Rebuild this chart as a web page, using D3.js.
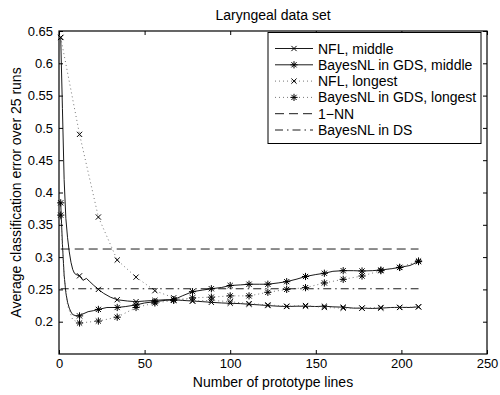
<!DOCTYPE html>
<html>
<head>
<meta charset="utf-8">
<script src="https://cdn.jsdelivr.net/npm/d3@7"></script>
<style>
  body { margin: 0; background: #fff; }
  svg { display: block; font-family: "Liberation Sans", Arial, sans-serif; }
</style>
</head>
<body>
<div id="container"></div>
<script>
// values
const title = 'Laryngeal data set';
const xLabel = 'Number of prototype lines';
const yLabel = 'Average classification error over 25 runs';

const xTicks = [0, 50, 100, 150, 200, 250];
const yTicks = [0.2, 0.25, 0.3, 0.35, 0.4, 0.45, 0.5, 0.55, 0.6, 0.65];

// x positions where markers are drawn
const markerX = [1, 12, 23, 34, 45, 56, 67, 78, 89, 100, 111, 122, 133, 144, 155, 166, 177, 188, 199, 210];

const nflMiddleX = [1, 2, 3, 4, 5, 6, 7, 8, 9, 10, 12, 14, 16, 18, 20, 23, 26, 30, 34, 40, 45, 50, 56, 62, 67, 72, 78, 84, 89, 95,
  100, 106, 111, 117, 122, 128, 133, 139, 144, 150, 155, 160, 166, 172, 177, 183, 188, 194, 199, 205, 210];
const nflMiddleY = [0.640, 0.530, 0.420, 0.360, 0.330, 0.308, 0.292, 0.281, 0.275, 0.273, 0.271, 0.264, 0.267, 0.262, 0.257,
  0.250, 0.244, 0.238, 0.234, 0.232, 0.231, 0.232, 0.233, 0.234, 0.234, 0.233, 0.232, 0.231, 0.230, 0.229,
  0.2285, 0.228, 0.227, 0.226, 0.225, 0.224, 0.2235, 0.224, 0.224, 0.2235, 0.224, 0.223, 0.2225, 0.221, 0.221,
  0.2205, 0.221, 0.222, 0.2222, 0.222, 0.223];

const bayesMiddleX = [1, 2, 3, 4, 5, 6, 7, 8, 10, 12, 14, 17, 20, 23, 28, 34, 39, 45, 50, 56, 62, 67, 72, 78, 84, 89, 95,
  100, 106, 111, 117, 122, 128, 133, 139, 144, 150, 155, 160, 166, 172, 177, 183, 188, 194, 199, 205, 210];
const bayesMiddleY = [0.384, 0.320, 0.272, 0.245, 0.230, 0.221, 0.215, 0.211, 0.209, 0.209, 0.212, 0.2155, 0.217, 0.219,
  0.222, 0.222, 0.2235, 0.226, 0.229, 0.231, 0.233, 0.234, 0.240, 0.2465, 0.249, 0.251, 0.253,
  0.256, 0.257, 0.258, 0.258, 0.258, 0.260, 0.262, 0.266, 0.270, 0.273, 0.275, 0.278, 0.279, 0.279, 0.2785,
  0.279, 0.280, 0.282, 0.284, 0.287, 0.293];

const nflLongestX = markerX;
const nflLongestY = [0.640, 0.490, 0.362, 0.2955, 0.269, 0.248, 0.237, 0.232, 0.233, 0.231, 0.228, 0.226, 0.224, 0.225,
  0.222, 0.221, 0.221, 0.222, 0.222, 0.223];

const bayesLongestX = [1, 3, 5, 8, 12, 23, 34, 45, 56, 67, 78, 89, 100, 111, 122, 133, 144, 155, 166, 177, 188, 199, 210];
const bayesLongestY = [0.365, 0.270, 0.225, 0.203, 0.198, 0.201, 0.207, 0.222, 0.229, 0.233, 0.237, 0.238, 0.240, 0.240,
  0.2455, 0.250, 0.2527, 0.260, 0.2656, 0.2707, 0.279, 0.284, 0.294];

const oneNNX = [1, 210];
const oneNNY = [0.3125, 0.3125];
const bayesDSX = [1, 210];
const bayesDSY = [0.251, 0.251];

const seriesNames = ['NFL, middle', 'BayesNL in GDS, middle', 'NFL, longest', 'BayesNL in GDS, longest', '1\u2212NN', 'BayesNL in DS'];

const series = [
  { name: seriesNames[0], xs: nflMiddleX, ys: nflMiddleY, dash: null, marker: 'x' },
  { name: seriesNames[1], xs: bayesMiddleX, ys: bayesMiddleY, dash: null, marker: 'star' },
  { name: seriesNames[2], xs: nflLongestX, ys: nflLongestY, dash: '1,3', marker: 'x' },
  { name: seriesNames[3], xs: bayesLongestX, ys: bayesLongestY, dash: '1,3', marker: 'star' },
  { name: seriesNames[4], xs: oneNNX, ys: oneNNY, dash: '9,5', marker: null },
  { name: seriesNames[5], xs: bayesDSX, ys: bayesDSY, dash: '8,4,1.5,4', marker: null }
];

const width = 500;
const height = 395;
const plot = { left: 59, right: 487, top: 31, bottom: 354 };

const svg = d3.select('#container')
  .append('svg')
  .attr('width', width)
  .attr('height', height);

const x = d3.scaleLinear().domain([0, 250]).range([plot.left, plot.right]);
const y = d3.scaleLinear().domain([0.15, 0.65]).range([plot.bottom, plot.top]);

const line = d3.line()
  .x(d => x(d[0]))
  .y(d => y(d[1]));

// dotted lines come out grey in the reference
const strokeFor = s => (s.dash === '1,3' ? '#666' : '#000');

// draw a marker symbol centred at 0,0 inside g
function drawMarker(g, type) {
  const s = 2.6;
  const path = type === 'x'
    ? `M${-s},${-s}L${s},${s}M${-s},${s}L${s},${-s}`
    : `M0,${-3.6}L0,3.6M${-3.6},0L3.6,0M${-s},${-s}L${s},${s}M${-s},${s}L${s},${-s}`;
  g.append('path')
    .attr('d', path)
    .attr('fill', 'none')
    .attr('stroke', '#000')
    .attr('stroke-width', 1);
}

// lines
const plotG = svg.append('g');
series.forEach(s => {
  const pts = s.xs.map((v, i) => [v, s.ys[i]]);
  plotG.append('path')
    .datum(pts)
    .attr('d', line)
    .attr('fill', 'none')
    .attr('stroke', strokeFor(s))
    .attr('stroke-width', s.dash === '1,3' ? 0.9 : 0.9)
    .attr('stroke-dasharray', s.dash);
  if (s.marker) {
    pts.filter(p => markerX.includes(p[0])).forEach(p => {
      const mg = plotG.append('g').attr('transform', `translate(${x(p[0])},${y(p[1])})`);
      drawMarker(mg, s.marker);
    });
  }
});

// axes, matlab style: inward ticks on all four sides
const tickLen = 4;
const bottomAxis = svg.append('g')
  .attr('transform', `translate(0,${plot.bottom})`)
  .call(d3.axisBottom(x).tickValues(xTicks).tickSizeInner(-tickLen).tickSizeOuter(0).tickPadding(5));
const topAxis = svg.append('g')
  .attr('transform', `translate(0,${plot.top})`)
  .call(d3.axisTop(x).tickValues(xTicks).tickSizeInner(-tickLen).tickSizeOuter(0).tickFormat(''));
const leftAxis = svg.append('g')
  .attr('transform', `translate(${plot.left},0)`)
  .call(d3.axisLeft(y).tickValues(yTicks).tickSizeInner(-tickLen).tickSizeOuter(0).tickPadding(6)
    .tickFormat(d3.format('~g')));
const rightAxis = svg.append('g')
  .attr('transform', `translate(${plot.right},0)`)
  .call(d3.axisRight(y).tickValues(yTicks).tickSizeInner(-tickLen).tickSizeOuter(0).tickFormat(''));

[bottomAxis, topAxis, leftAxis, rightAxis].forEach(a => {
  a.select('.domain').remove();
  a.selectAll('line').attr('stroke', '#000').attr('stroke-width', 1);
  a.selectAll('text').attr('font-size', 13).attr('fill', '#000')
    .attr('font-family', '"Liberation Sans", Arial, sans-serif');
});

svg.append('rect')
  .attr('x', plot.left)
  .attr('y', plot.top)
  .attr('width', plot.right - plot.left)
  .attr('height', plot.bottom - plot.top)
  .attr('fill', 'none')
  .attr('stroke', '#000')
  .attr('stroke-width', 1.2);

// title and axis labels
svg.append('text')
  .attr('x', (plot.left + plot.right) / 2)
  .attr('y', 20)
  .attr('text-anchor', 'middle')
  .attr('font-size', 14)
  .text(title);

svg.append('text')
  .attr('x', (plot.left + plot.right) / 2)
  .attr('y', 387)
  .attr('text-anchor', 'middle')
  .attr('font-size', 14)
  .text(xLabel);

svg.append('text')
  .attr('transform', `translate(21,${(plot.top + plot.bottom) / 2}) rotate(-90)`)
  .attr('text-anchor', 'middle')
  .attr('font-size', 14)
  .text(yLabel);

// legend
const legend = { left: 268, top: 32.5, right: 481, bottom: 143.5, rowH: 16.3, firstRow: 48.5 };
const legendG = svg.append('g');
legendG.append('rect')
  .attr('x', legend.left)
  .attr('y', legend.top)
  .attr('width', legend.right - legend.left)
  .attr('height', legend.bottom - legend.top)
  .attr('fill', '#fff')
  .attr('stroke', '#000')
  .attr('stroke-width', 1);

series.forEach((s, i) => {
  const ry = legend.firstRow + i * legend.rowH;
  legendG.append('line')
    .attr('x1', 275)
    .attr('x2', 313)
    .attr('y1', ry)
    .attr('y2', ry)
    .attr('stroke', strokeFor(s))
    .attr('stroke-width', 0.9)
    .attr('stroke-dasharray', s.dash);
  if (s.marker) {
    drawMarker(legendG.append('g').attr('transform', `translate(294,${ry})`), s.marker);
  }
  legendG.append('text')
    .attr('x', 318)
    .attr('y', ry + 5)
    .attr('font-size', 14)
    .text(s.name);
});
</script>
</body>
</html>
